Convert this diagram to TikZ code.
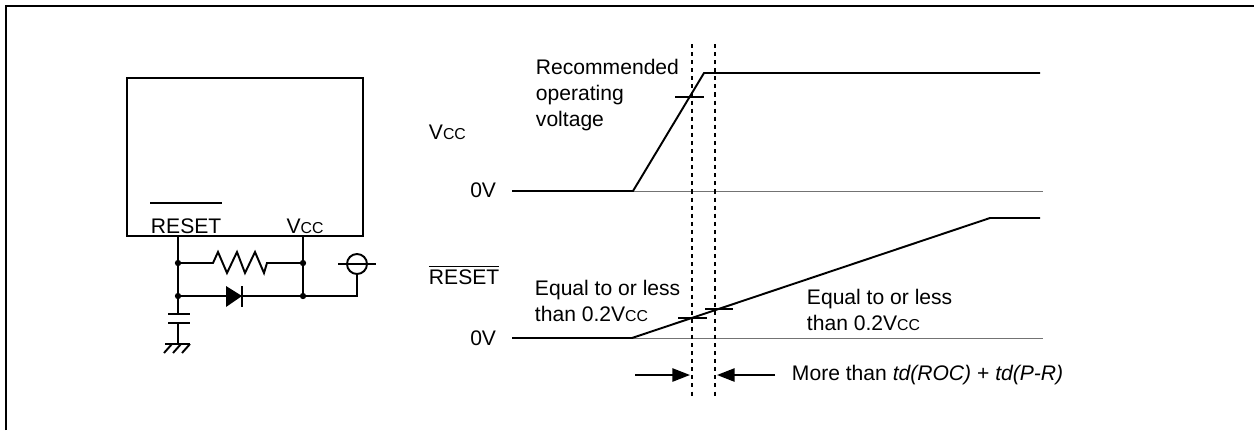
\documentclass[tikz,border=0pt]{standalone}
\usepackage{fontspec}
\setmainfont{Liberation Sans}
\usetikzlibrary{arrows.meta}
\newcommand{\vcclabel}{V{\fontsize{9}{9}\selectfont CC}}

\begin{document}
\begin{tikzpicture}[x=0.02cm,y=-0.02cm,line width=1.1pt,
        font=\fontsize{12}{15}\selectfont,
        lbl/.style={inner sep=0pt,align=left},
        junction/.style={circle,fill,inner sep=0pt,minimum size=3.6pt},
        zero/.style={line width=0.5pt,black!55},
        marker/.style={line width=0.8pt,dash pattern=on 2.3pt off 2.3pt},
        timing/.style={-{Triangle[length=10pt,width=7.5pt]}}]
        \useasboundingbox (0,0) rectangle (1254,430);
        % frame
        \draw[line width=1.6pt] (6,430) -- (6,6) -- (1254,6);
        % chip
        \draw (127,78) rectangle (363,236);
        \node[lbl,anchor=base west] (rst) at (150,233) {RESET};
        \draw ([yshift=8pt]rst.north west) -- ([yshift=8pt]rst.north east);
        \node[lbl,anchor=base] (vccpin) at (305,233) {\vcclabel};
        \coordinate (rsttop) at (178,236);
        \coordinate (vcctop) at (303,236);
        \node[junction] (ja) at (178,263) {};
        \node[junction] (jb) at (303,263) {};
        \node[junction] (jc) at (178,296) {};
        \node[junction] (jd) at (303,296) {};
        \draw (rsttop) -- (jc.center);
        \draw (vcctop) -- (jd.center);
        % resistor
        \draw (ja.center) -- (213,263) -- (218,252) -- (227,273) -- (237,252) -- (245,273)
            -- (255,252) -- (264,273) -- (267,263) -- (jb.center);
        % diode
        \draw (jc.center) -- (jd.center);
        \fill (226,286) -- (242,296) -- (226,307) -- cycle;
        \draw (242,286) -- (242,307);
        % supply terminal
        \node[circle,draw,inner sep=0pt,minimum size=0.4cm] (supply) at (357,264) {};
        \draw (338,264) -- (376,264);
        \draw (jd.center) -- (357,296) -- (supply.south);
        % capacitor and ground
        \coordinate (capa) at (178,314);
        \coordinate (capb) at (178,323);
        \coordinate (gnd) at (178,344);
        \draw (jc.center) -- (capa);
        \draw (168,314) -- (190,314);
        \draw (168,323) -- (190,323);
        \draw (capb) -- (gnd);
        \draw (165,344) -- (190,344);
        \foreach \x in {172,181,190}
            \draw (\x,344) -- (\x-8,353);

        % timing chart
        \node[lbl,anchor=west] (vcclbl) at (428,132) {\vcclabel};
        \node[lbl,anchor=east] (zeroa) at (497,190) {0V};
        \node[lbl,anchor=west] (rstlbl) at (428,275) {$\overline{\mbox{RESET}}$};
        \node[lbl,anchor=east] (zerob) at (497,338) {0V};
        \draw[zero] (512,191) -- (1043,191);
        \draw[zero] (512,338) -- (1043,338);
        \draw (512,191) -- (633,191) -- (704,73) -- (1040,73);
        \draw (512,338) -- (632,338) -- (990,218) -- (1040,218);
        % levels
        \draw (675,97) -- (704,97);
        \draw (678,318) -- (707,318);
        \draw (705,309) -- (733,309);
        \node[lbl,anchor=west] (recom) at (535,95) {Recommended\\operating\\voltage};
        \node[lbl,anchor=west] (lowa) at (534,301) {Equal to or less\\than 0.2\vcclabel};
        \node[lbl,anchor=west] (lowb) at (806,310) {Equal to or less\\than 0.2\vcclabel};
        % timing markers
        \coordinate (ma) at (692,44);
        \coordinate (mb) at (715,44);
        \draw[marker] (ma) -- (692,398);
        \draw[marker] (mb) -- (715,398);
        \draw[timing] (635,375) -- (690,375);
        \draw[timing] (775,375) -- (717,375);
        \node[lbl,anchor=west] (gap) at (791,375) {More than \textit{td(ROC)} + \textit{td(P-R)}};
    \end{tikzpicture}
\end{document}
